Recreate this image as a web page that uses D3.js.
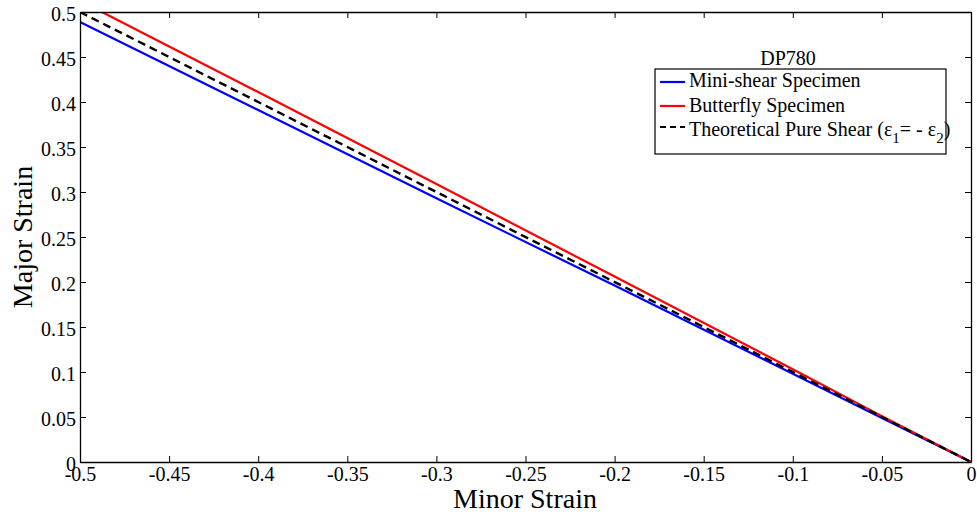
<!DOCTYPE html>
<html><head><meta charset="utf-8">
<script src="https://cdn.jsdelivr.net/npm/d3@7"></script>
<style>body{margin:0;background:#fff}svg{display:block}svg text{font-family:"Liberation Serif","Times New Roman",serif !important}</style>
</head><body><svg id="c" width="977" height="516"></svg>
<script>
const xTicks = [-0.5,-0.45,-0.4,-0.35,-0.3,-0.25,-0.2,-0.15,-0.1,-0.05,0];
const yTicks = [0,0.05,0.1,0.15,0.2,0.25,0.3,0.35,0.4,0.45,0.5];
const xTickLabels = ["-0.5","-0.45","-0.4","-0.35","-0.3","-0.25","-0.2","-0.15","-0.1","-0.05","0"];
const yTickLabels = ["0","0.05","0.1","0.15","0.2","0.25","0.3","0.35","0.4","0.45","0.5"];
const miniShearX = [-0.5,-0.4,-0.3,-0.2,-0.1,-0.05,0];
const miniShearY = [0.489,0.391,0.293,0.196,0.098,0.049,0];
const butterflyX = [-0.51,-0.4877,-0.4,-0.3,-0.2,-0.1,-0.05,0];
const butterflyY = [0.523,0.5,0.411,0.309,0.206,0.103,0.051,0];
const theoryX = [-0.5,0];
const theoryY = [0.5,0];
const seriesNames = ["Mini-shear Specimen","Butterfly Specimen","Theoretical Pure Shear"];
const title = "DP780";

const svg = d3.select("#c");
const L=80,R=971,T=12,B=462;
const x = d3.scaleLinear().domain([-0.5,0]).range([L,R]);
const y = d3.scaleLinear().domain([0,0.5]).range([B,T]);

svg.append("defs").append("clipPath").attr("id","clip").append("rect")
  .attr("x",L).attr("y",T).attr("width",R-L).attr("height",B-T);

const line = d3.line().x(d=>x(d[0])).y(d=>y(d[1]));
const g = svg.append("g").attr("clip-path","url(#clip)");
g.append("path").datum(miniShearX.map((v,i)=>[v,miniShearY[i]])).attr("d",line)
  .attr("fill","none").attr("stroke","#0000ff").attr("stroke-width",2.2);
g.append("path").datum(butterflyX.map((v,i)=>[v,butterflyY[i]])).attr("d",line)
  .attr("fill","none").attr("stroke","#ff0000").attr("stroke-width",2.2);
g.append("path").datum(theoryX.map((v,i)=>[v,theoryY[i]])).attr("d",line)
  .attr("fill","none").attr("stroke","#000").attr("stroke-width",2.4).attr("stroke-dasharray","8,5");

const fs = 20;
const xb = svg.append("g").attr("transform",`translate(0,${B})`)
  .call(d3.axisBottom(x).tickValues(xTicks).tickSizeInner(-6).tickSizeOuter(0).tickFormat((d,i)=>xTickLabels[i]));
const xt = svg.append("g").attr("transform",`translate(0,${T})`)
  .call(d3.axisTop(x).tickValues(xTicks).tickSizeInner(-6).tickSizeOuter(0).tickFormat(""));
const yl = svg.append("g").attr("transform",`translate(${L},0)`)
  .call(d3.axisLeft(y).tickValues(yTicks).tickSizeInner(-6).tickSizeOuter(0).tickFormat((d,i)=>yTickLabels[i]));
const yr = svg.append("g").attr("transform",`translate(${R},0)`)
  .call(d3.axisRight(y).tickValues(yTicks).tickSizeInner(-6).tickSizeOuter(0).tickFormat(""));
[xb,xt,yl,yr].forEach(a=>{
  a.attr("font-family","Liberation Serif").attr("font-size",fs);
  a.select(".domain").attr("stroke","#000").attr("stroke-width",1.3);
  a.selectAll(".tick line").attr("stroke","#000").attr("stroke-width",1);
  a.selectAll("text").attr("font-size",fs).attr("fill","#000");
});
xb.selectAll("text").attr("y",19).attr("dy",null);
yl.selectAll("text").attr("x",-4).attr("dy","0.4em");

svg.append("text").attr("x",525).attr("y",508).attr("text-anchor","middle")
  .attr("font-size",28).text("Minor Strain");
svg.append("text").attr("transform",`translate(32,237) rotate(-90)`).attr("text-anchor","middle")
  .attr("font-size",28).text("Major Strain");

svg.append("text").attr("x",788).attr("y",65).attr("text-anchor","middle").attr("font-size",20).text(title);
const lx=655, ly=69, lw=291, lh=85;
svg.append("rect").attr("x",lx).attr("y",ly).attr("width",lw).attr("height",lh)
  .attr("fill","#fff").attr("stroke","#000").attr("stroke-width",1.2);
const items=[{c:"#0000ff",d:null,yy:82,ty:87},{c:"#ff0000",d:null,yy:106,ty:112},{c:"#000",d:"6,4",yy:127,ty:136}];
items.forEach((it,i)=>{
  svg.append("line").attr("x1",660).attr("x2",685).attr("y1",it.yy).attr("y2",it.yy)
    .attr("stroke",it.c).attr("stroke-width",2.2).attr("stroke-dasharray",it.d);
  const t = svg.append("text").attr("x",689).attr("y",it.ty).attr("font-size",20);
  if(i<2) t.text(seriesNames[i]);
  else {
    t.append("tspan").text(seriesNames[2]+" (ε");
    t.append("tspan").attr("dy",7).attr("font-size",15).text("1");
    t.append("tspan").attr("dy",-7).text("= - ε");
    t.append("tspan").attr("dy",7).attr("font-size",15).text("2");
    t.append("tspan").attr("dy",-7).text(")");
  }
});
</script></body></html>
